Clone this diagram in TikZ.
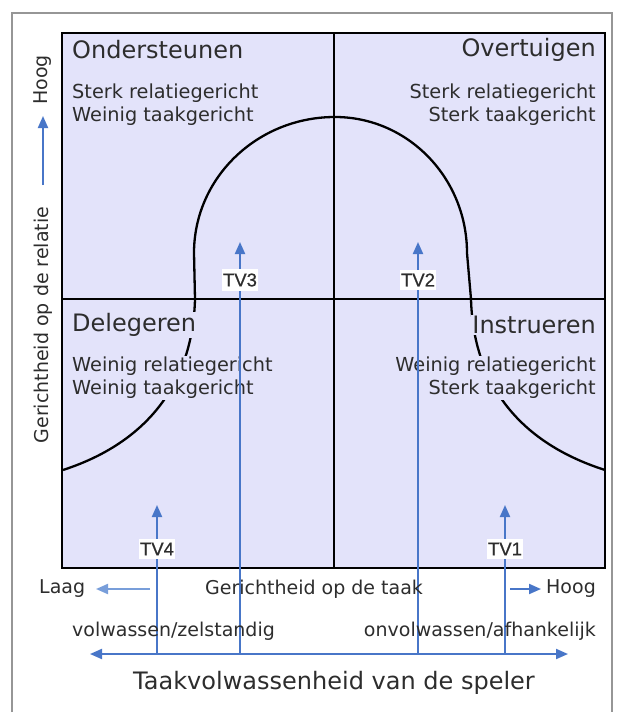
\documentclass[tikz,border=0pt]{standalone}
\usepackage{fontspec}
\setmainfont{DejaVu Sans}
\newfontfamily\tvfont[FakeBold=0.6]{Liberation Sans}
\usetikzlibrary{arrows.meta}
\definecolor{boxfill}{RGB}{227,227,250}
\definecolor{txtgray}{RGB}{45,45,45}
\definecolor{arrblue}{RGB}{72,118,200}
\definecolor{paleblue}{RGB}{120,158,218}
\definecolor{framegray}{RGB}{150,150,150}
\tikzset{
  titletext/.style={text=txtgray, font=\fontsize{24}{29}\selectfont, inner sep=1pt},
  bodytext/.style={text=txtgray, font=\fontsize{19.3}{23}\selectfont, inner sep=1pt, fill=boxfill},
  axistext/.style={text=txtgray, font=\fontsize{19}{22}\selectfont, inner sep=1pt},
  tvlabel/.style={fill=white, text=txtgray, font=\tvfont\fontsize{18.5}{20}\selectfont, inner xsep=1.5pt, inner ysep=4pt},
  tip/.style={-{Triangle[width=10pt,length=12pt]}},
  bluearrow/.style={arrblue, line width=2pt, tip},
  curveline/.style={black, line width=2.3pt},
}
\begin{document}
\begin{tikzpicture}[x=1pt,y=-1pt]
\useasboundingbox (0,0) rectangle (616,717);
\fill[white] (0,0) rectangle (616,717);
% outer frame
\draw[framegray, line width=2.2pt] (12,712) -- (12,13) -- (612,13) -- (612,712);
% quadrant box
\draw[fill=boxfill, line width=2pt] (62,33) rectangle (605,568);
\draw[line width=2pt] (62,299) -- (605,299);
\draw[line width=2pt] (334,33) -- (334,568);
% bell curve
\draw[curveline] (63,470) .. controls (155,440) and (193,375) .. (195,299)
  -- (194,253) .. controls (194,178) and (257,117) .. (335,117)
  .. controls (408,117) and (467,178) .. (467,253)
  -- (471,299) .. controls (473,375) and (511,440) .. (605,470);
% quadrant texts
\node[titletext, anchor=west] (ond) at (71,50) {Ondersteunen};
\node[titletext, anchor=east] (ovt) at (597,50) {Overtuigen};
\node[bodytext, anchor=west, align=left] (ondt) at (71,104.5) {Sterk relatiegericht\\Weinig taakgericht};
\node[bodytext, anchor=east, align=right] (ovtt) at (597,104.5) {Sterk relatiegericht\\Sterk taakgericht};
\node[titletext, fill=boxfill, anchor=west] (del) at (71,325) {Delegeren};
\node[titletext, fill=boxfill, anchor=east] (ins) at (597,325) {Instrueren};
\node[bodytext, anchor=west, align=left] (delt) at (71,378) {Weinig relatiegericht\\Weinig taakgericht};
\node[bodytext, anchor=east, align=right] (inst) at (597,378) {Weinig relatiegericht\\Sterk taakgericht};
% bottom axis
\coordinate (axL) at (90,654);
\coordinate (axR) at (568,654);
\draw[arrblue, line width=2pt, {Triangle[width=10pt,length=12pt]}-{Triangle[width=10pt,length=12pt]}] (axL) -- (axR);
\coordinate (b4) at (157,654); \coordinate (t4) at (157,505);
\coordinate (b3) at (240,654); \coordinate (t3) at (240,242);
\coordinate (b2) at (418,654); \coordinate (t2) at (418,242);
\coordinate (b1) at (505,654); \coordinate (t1) at (505,505);
\draw[bluearrow] (b4) -- (t4);
\draw[bluearrow] (b3) -- (t3);
\draw[bluearrow] (b2) -- (t2);
\draw[bluearrow] (b1) -- (t1);
\node[tvlabel] (tv3) at (240,280) {TV3};
\node[tvlabel] (tv2) at (418,280) {TV2};
\node[tvlabel] (tv4) at (157,549) {TV4};
\node[tvlabel] (tv1) at (505,549) {TV1};
% task axis labels
\node[axistext, anchor=west] (laag) at (38,589) {Laag};
\coordinate (laagA) at (150,589); \coordinate (laagB) at (96,589);
\draw[paleblue, line width=2pt, tip] (laagA) -- (laagB);
\node[axistext] (taak) at (314,589) {Gerichtheid op de taak};
\coordinate (hoogA) at (510,589); \coordinate (hoogB) at (541,589);
\draw[bluearrow] (hoogA) -- (hoogB);
\node[axistext, anchor=east] (hoogx) at (597,589) {Hoog};
\node[axistext, anchor=west] (volw) at (71,631) {volwassen/zelstandig};
\node[axistext, anchor=east] (onvolw) at (597,631) {onvolwassen/afhankelijk};
\node[titletext] (tvw) at (334,683) {Taakvolwassenheid van de speler};
% relation axis
\node[axistext, rotate=90] (rel) at (43,325) {Gerichtheid op de relatie};
\coordinate (relA) at (43,185); \coordinate (relB) at (43,116);
\draw[bluearrow] (relA) -- (relB);
\node[axistext, rotate=90] (hoogy) at (43,80) {Hoog};
\end{tikzpicture}
\end{document}
